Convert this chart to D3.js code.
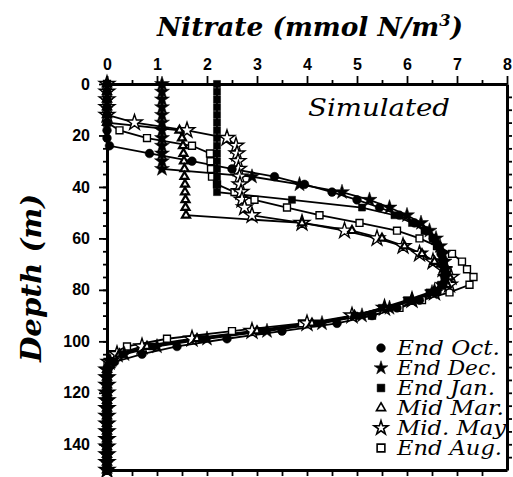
<!DOCTYPE html>
<html>
<head>
<meta charset="utf-8">
<script src="https://cdn.jsdelivr.net/npm/d3@7"></script>
<style>
  body { margin: 0; background: #fff; }
  svg { display: block; }
  .tick text { font-family: "Liberation Sans", Arial, Helvetica, sans-serif; font-weight: bold; font-size: 16px; fill: #000; }
  .serif { font-family: "DejaVu Serif", serif; font-style: italic; }
</style>
</head>
<body>
<div id="chart"></div>
<script>
// model levels (m)
var depth = [0,3,6,9,12,15,18,21,24,27,30,33,36,39,42,45,48,51,54,57,60,63,66,69,72,75,78,81,84,87,90,
             93,96,99,102,105,108,111,114,117,120,123,126,129,132,135,138,141,144,147,150];

// nitrate, mmol N/m3, one value per level
var endOct = [0,0,0,0,0,0,0,0,0.05,0.85,1.7,2.5,3.35,3.95,4.5,5.0,5.45,5.85,6.15,6.38,6.52,6.62,6.68,6.72,6.75,6.76,6.72,6.6,6.25,5.8,5.3,
              4.6,3.5,2.4,1.4,0.7,0.15,0.02,0,0,0,0,0,0,0,0,0,0,0,0,0];
var endDec = [1.1,1.1,1.1,1.1,1.1,1.1,1.1,1.1,1.1,1.1,1.1,1.1,2.9,3.85,4.7,5.25,5.65,6.0,6.28,6.45,6.58,6.66,6.72,6.75,6.77,6.76,6.7,6.5,6.1,5.65,5.1,
              4.3,3.2,2.0,1.0,0.35,0.07,0,0,0,0,0,0,0,0,0,0,0,0,0,0];
var endJan = [2.2,2.2,2.2,2.2,2.2,2.2,2.2,2.2,2.2,2.2,2.2,2.2,2.2,2.2,2.2,3.7,5.1,5.75,6.1,6.35,6.52,6.62,6.7,6.74,6.76,6.75,6.68,6.45,6.0,5.5,4.95,
              4.2,3.1,1.9,0.9,0.3,0.06,0,0,0,0,0,0,0,0,0,0,0,0,0,0];
var midMar = [0,0,0,0,0,0,1.45,1.5,1.52,1.53,1.54,1.55,1.55,1.56,1.56,1.57,1.57,1.58,3.9,4.9,5.5,5.95,6.3,6.55,6.75,6.85,6.8,6.55,6.1,5.55,4.95,
              4.1,3.0,1.8,0.8,0.25,0.05,0,0,0,0,0,0,0,0,0,0,0,0,0,0];
var midMay = [0,0,0,0,0,0.55,1.6,2.4,2.58,2.6,2.62,2.63,2.65,2.66,2.68,2.7,2.75,2.9,3.9,4.75,5.4,5.92,6.25,6.52,6.72,6.88,6.85,6.55,6.1,5.55,4.9,
              4.0,2.9,1.7,0.7,0.2,0.04,0,0,0,0,0,0,0,0,0,0,0,0,0,0];
var endAug = [0,0,0,0,0,0,0.25,0.8,1.7,2.06,2.07,2.08,2.1,2.2,2.55,2.95,3.6,4.25,5.05,5.8,6.25,6.6,6.9,7.1,7.2,7.33,7.25,6.85,6.3,5.85,5.3,
              3.9,2.5,1.2,0.4,0.08,0.01,0,0,0,0,0,0,0,0,0,0,0,0,0,0];

var seriesNames = ["End Oct.", "End Dec.", "End Jan.", "Mid Mar.", "Mid. May", "End Aug."];
var seriesValues = [endOct, endDec, endJan, midMar, midMay, endAug];
var seriesSymbols = [d3.symbolCircle, d3.symbolStar, d3.symbolSquare, d3.symbolTriangle, d3.symbolStar, d3.symbolSquare];
var seriesFilled = [true, true, true, false, false, false];
var symbolSizes = [60, 70, 50, 28, 75, 48];

var xTicks = [0,1,2,3,4,5,6,7,8];
var yTicks = [0,20,40,60,80,100,120,140];

var W = 513, H = 477;
var margin = {top: 84, right: 6, bottom: 7, left: 107};

var x = d3.scaleLinear().domain([0, 8]).range([margin.left, W - margin.right]);
var y = d3.scaleLinear().domain([0, 150]).range([margin.top, H - margin.bottom]);

var svg = d3.select("#chart").append("svg")
  .attr("width", W)
  .attr("height", H);

// curves
var line = d3.line()
  .x(function(d) { return x(d.v); })
  .y(function(d) { return y(d.z); });

var data = seriesValues.map(function(vals) {
  return vals.map(function(v, i) { return {v: v, z: depth[i]}; });
});

data.forEach(function(pts, k) {
  svg.append("path")
    .datum(pts)
    .attr("fill", "none")
    .attr("stroke", "#000")
    .attr("stroke-width", 1.8)
    .attr("d", line);
});

// open symbols first so the filled ones sit on top
[5, 4, 3, 2, 1, 0].forEach(function(k) {
  var sym = d3.symbol().type(seriesSymbols[k]).size(symbolSizes[k]);
  svg.append("g").selectAll("path")
    .data(data[k])
    .enter().append("path")
    .attr("transform", function(d) { return "translate(" + x(d.v) + "," + y(d.z) + ")"; })
    .attr("d", sym)
    .attr("fill", seriesFilled[k] ? "#000" : "#fff")
    .attr("stroke", "#000")
    .attr("stroke-width", seriesFilled[k] ? 0.5 : (k === 3 ? 2.2 : 1.4));
});

// axes
function styleAxis(g) {
  g.select(".domain").attr("stroke", "#000").attr("stroke-width", 3);
  g.selectAll(".tick line").attr("stroke", "#000").attr("stroke-width", 1.8);
}

svg.append("g").attr("transform", "translate(0," + margin.top + ")")
  .call(d3.axisTop(x).tickValues(xTicks).tickSize(8).tickSizeOuter(0).tickPadding(6).tickFormat(d3.format("d")))
  .call(styleAxis);
svg.append("g").attr("transform", "translate(0," + margin.top + ")")
  .call(d3.axisTop(x).tickValues(d3.range(0.5, 8, 1)).tickSize(4).tickSizeOuter(0).tickFormat(""))
  .call(styleAxis);

svg.append("g").attr("transform", "translate(" + margin.left + ",0)")
  .call(d3.axisLeft(y).tickValues(yTicks).tickSize(8).tickSizeOuter(0).tickPadding(9).tickFormat(d3.format("d")))
  .call(styleAxis);
svg.append("g").attr("transform", "translate(" + margin.left + ",0)")
  .call(d3.axisLeft(y).tickValues(d3.range(5, 150, 5)).tickSize(4).tickSizeOuter(0).tickFormat(""))
  .call(styleAxis);

svg.append("g").attr("transform", "translate(" + (W - margin.right) + ",0)")
  .call(d3.axisRight(y).tickValues(d3.range(5, 150, 5)).tickSize(5).tickSizeOuter(0).tickFormat(""))
  .call(styleAxis);

svg.append("g").attr("transform", "translate(0," + (H - margin.bottom) + ")")
  .call(d3.axisBottom(x).tickValues(d3.range(0.5, 8, 0.5)).tickSize(6).tickSizeOuter(0).tickFormat(""))
  .call(styleAxis);

// titles
var title = svg.append("text")
  .attr("class", "serif")
  .attr("x", 157).attr("y", 36)
  .attr("textLength", 306).attr("lengthAdjust", "spacingAndGlyphs")
  .style("font-weight", "bold").style("font-size", "26px");
title.append("tspan").text("Nitrate (mmol N/m");
title.append("tspan").attr("dy", -10).style("font-size", "16px").text("3");
title.append("tspan").attr("dy", 10).text(")");

svg.append("text")
  .attr("class", "serif")
  .attr("transform", "translate(41," + 362 + ") rotate(-90)")
  .attr("textLength", 168).attr("lengthAdjust", "spacingAndGlyphs")
  .style("font-weight", "bold").style("font-size", "27px")
  .text("Depth (m)");

svg.append("text")
  .attr("class", "serif")
  .attr("x", 308).attr("y", 116)
  .attr("textLength", 142).attr("lengthAdjust", "spacingAndGlyphs")
  .style("font-size", "25px")
  .text("Simulated");

// legend
var legendWidths = [103, 100, 98, 107, 109, 105];
var legend = svg.append("g");
seriesNames.forEach(function(name, k) {
  var ly = 348 + k * 20;
  legend.append("path")
    .attr("transform", "translate(381," + ly + ")")
    .attr("d", d3.symbol().type(seriesSymbols[k]).size(k === 3 ? 36 : 60))
    .attr("fill", seriesFilled[k] ? "#000" : "#fff")
    .attr("stroke", "#000")
    .attr("stroke-width", seriesFilled[k] ? 0.5 : 1.6);
  legend.append("text")
    .attr("class", "serif")
    .attr("x", 397).attr("y", ly + 7)
    .attr("textLength", legendWidths[k]).attr("lengthAdjust", "spacingAndGlyphs")
    .style("font-size", "20px")
    .text(name);
});
</script>
</body>
</html>
